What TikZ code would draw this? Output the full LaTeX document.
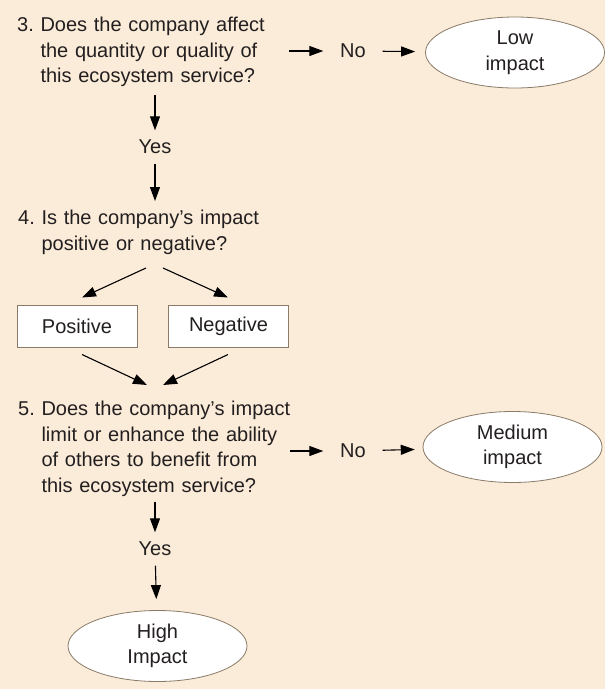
\documentclass[tikz,border=0pt]{standalone}
\usepackage{fontspec}
\setmainfont{Liberation Sans}
\frenchspacing
\usetikzlibrary{arrows.meta, positioning, shapes.geometric}
\definecolor{sandbg}{RGB}{250,236,216}
\definecolor{edgebrown}{RGB}{138,122,104}
\definecolor{inkgray}{RGB}{35,31,32}

\begin{document}
\begin{tikzpicture}[
        x=1pt, y=-1pt,
        every node/.style={font=\fontsize{20}{25.5}\selectfont, text=inkgray},
        question/.style={anchor=north west, text width=272pt, inner sep=0pt, align=left, execute at begin node={\hyphenpenalty=10000\relax}},
        answer/.style={inner sep=0pt, minimum width=59pt, minimum height=33pt},
        verdict/.style={ellipse, draw=edgebrown, line width=0.8pt, fill=white, minimum width=179pt, minimum height=71pt, inner sep=0pt, align=center},
        sign/.style={rectangle, draw=edgebrown, line width=1pt, fill=white, minimum width=120pt, minimum height=42pt, inner sep=0pt},
        arrow/.style={-{Triangle[length=14pt, width=10pt]}, line width=1.1pt},
        ]

        % Background
        \fill [sandbg] (0,0) rectangle (605,689);

        % Nodes
        \node (q3) [question] at (17,17) {3. Does the company affect\\\hphantom{3. }the quantity or quality of\\\hphantom{3. }this ecosystem service?};
        \node (no1) [answer] at (353,51) {No};
        \node (low) [verdict] at (515,52.5) {Low\\impact};
        \node (yes1) [answer] at (155,147) {Yes};
        \node (q4) [question] at (18,210) {4. Is the company’s impact\\\hphantom{4. }positive or negative?};
        \node (pos) [sign] at (77,326) {Positive};
        \node (neg) [sign] at (228.5,326) {Negative};
        \node (q5) [question] at (18,401) {5. Does the company’s impact\\\hphantom{5. }limit or enhance the ability\\\hphantom{5. }of others to benefit from\\\hphantom{5. }this ecosystem service?};
        \node (no2) [answer] at (353,451) {No};
        \node (med) [verdict] at (512.5,447) {Medium\\impact};
        \node (yes2) [answer] at (155,549) {Yes};
        \node (high) [verdict] at (157.5,646) {High\\Impact};

        \coordinate (fork) at (155,268);
        \coordinate (merge) at (155,385);

        % Arrows
        \draw [arrow] (q3.east |- no1) -- (no1);
        \draw [arrow, shorten >=10pt] (no1) -- (low);
        \draw [arrow, shorten <=8pt] (q3.south -| yes1) -- (yes1);
        \draw [arrow, shorten >=9pt] (yes1) -- (q4.north -| yes1);
        \draw [arrow] ([xshift=-9pt]fork) -- ([xshift=5pt,yshift=7pt]pos.north);
        \draw [arrow] ([xshift=8pt]fork) -- ([xshift=-0.5pt,yshift=7pt]neg.north);
        \draw [arrow] ([xshift=5pt,yshift=-7pt]pos.south) -- ([xshift=-8pt]merge);
        \draw [arrow] ([xshift=-0.5pt,yshift=-7pt]neg.south) -- ([xshift=8pt]merge);
        \draw [arrow] (q5.east |- no2) -- (no2);
        \draw [arrow, shorten >=8pt] (no2) -- (med);
        \draw [arrow, shorten <=5pt] (q5.south -| yes2) -- (yes2);
        \draw [arrow, shorten >=11pt] (yes2) -- (high);

    \end{tikzpicture}
\end{document}
